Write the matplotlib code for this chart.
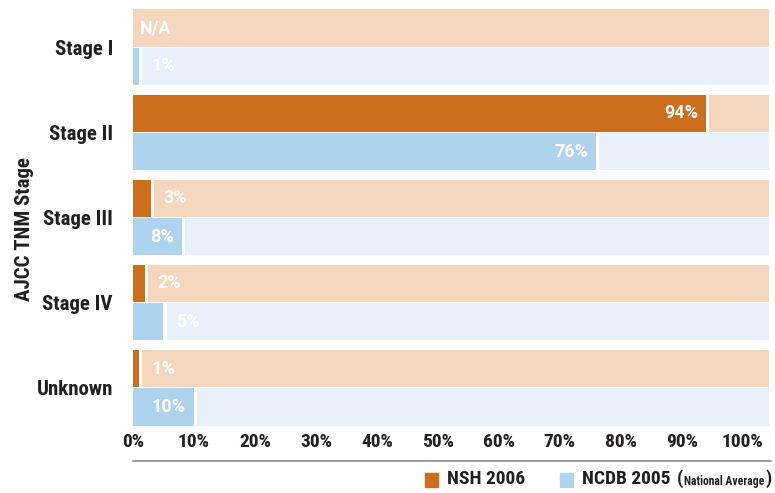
import matplotlib
matplotlib.use("Agg")
import matplotlib.pyplot as plt
from matplotlib.patches import Rectangle
from matplotlib.lines import Line2D
from matplotlib import font_manager

categories = ["Stage I", "Stage II", "Stage III", "Stage IV", "Unknown"]
nsh_2006 = [None, 94, 3, 2, 1]
ncdb_2005 = [1, 76, 8, 5, 10]
tick_labels = ["0%", "10%", "20%", "30%", "40%", "50%", "60%", "70%", "80%", "90%", "100%"]
series_names = ["NSH 2006", "NCDB 2005"]

names = {f.name for f in font_manager.fontManager.ttflist}
FONT = "DejaVu Sans"
for cand in ["Roboto Condensed", "IBM Plex Sans Condensed", "Barlow Semi Condensed", "Archivo Narrow"]:
    if cand in names:
        FONT = cand
        break
LABFONT = "Roboto" if "Roboto" in names else FONT
plt.rcParams["font.family"] = [FONT, "DejaVu Sans"]
WT = "semibold"

C_NSH = "#CD6E1C"
C_NSH_BG = "#F3D6BD"
C_NCDB = "#ADD3EF"
C_NCDB_BG = "#E8F1FB"
TXT = "#231F20"

W, H = 7.75, 4.93
fig = plt.figure(figsize=(W, H), dpi=100)
ax = fig.add_axes([133 / 775, 1 - 426 / 493, (769 - 133) / 775, (426 - 9) / 493])

XMAX = 104.3
PITCH = 2.22
BH = 0.975
GAP = 0.5
LKW = dict(color="white", fontsize=13, fontweight="bold", family=[LABFONT, "DejaVu Sans"], va="center")

def draw_row(y, val, color, bgcolor):
    if val is None:
        ax.barh(y, XMAX, left=0, height=BH, color=bgcolor, linewidth=0)
        ax.text(1.2, y, "N/A", ha="left", **LKW)
        return
    ax.barh(y, val, left=0, height=BH, color=color, linewidth=0)
    ax.barh(y, XMAX - val - GAP, left=val + GAP, height=BH, color=bgcolor, linewidth=0)
    if val >= 8:
        ax.text(val - 1.3, y, f"{val}%", ha="right", **LKW)
    else:
        ax.text(val + 2.0, y, f"{val}%", ha="left", **LKW)

for i, cat in enumerate(categories):
    y0 = i * PITCH
    draw_row(y0, nsh_2006[i], C_NSH, C_NSH_BG)
    draw_row(y0 + 1, ncdb_2005[i], C_NCDB, C_NCDB_BG)

ax.set_xlim(0, XMAX)
ax.set_ylim(4 * PITCH + 1 + 0.5, -0.5)
ax.set_yticks([i * PITCH + 0.5 for i in range(len(categories))])
ax.set_yticklabels(categories, fontsize=15, color=TXT, fontweight=WT)
ax.set_xticks(range(0, 101, 10))
ax.set_xticklabels(tick_labels, fontsize=14, color=TXT, fontweight=WT)
ax.tick_params(axis="both", length=0)
ax.tick_params(axis="y", pad=14.4)
ax.tick_params(axis="x", pad=5)
for s in ax.spines.values():
    s.set_visible(False)
ax.set_ylabel("AJCC TNM Stage", fontsize=15, color=TXT, fontweight=WT, va="center")
ax.yaxis.set_label_coords(-(133 - 24) / 636, (426 - 229) / 417)

def fx(px):
    return px / 775
def fy(py):
    return 1 - py / 493

# separator line
fig.add_artist(Line2D([fx(133), fx(771)], [fy(461), fy(461)], color="#8C8C8C", linewidth=1.2))

# legend
fig.add_artist(Rectangle((fx(425), fy(487)), 13 / 775, 14 / 493, color=C_NSH, transform=fig.transFigure))
fig.text(fx(447), fy(479), series_names[0], fontsize=14, color=TXT, va="center", ha="left", fontweight=WT)
fig.add_artist(Rectangle((fx(560), fy(487)), 13 / 775, 14 / 493, color=C_NCDB, transform=fig.transFigure))
fig.text(fx(582), fy(479), series_names[1], fontsize=14, color=TXT, va="center", ha="left", fontweight=WT)
tp = fig.text(fx(772), fy(479), ")", fontsize=14, color=TXT, va="center", ha="right", fontweight=WT)
fig.canvas.draw()
x0 = tp.get_window_extent().x0
t2 = fig.text(x0 / fig.dpi / W - 1 / 775, fy(481), "National Average", fontsize=8.4, color=TXT,
              va="center", ha="right", fontweight="bold")
fig.canvas.draw()
x0 = t2.get_window_extent().x0
fig.text(x0 / fig.dpi / W - 1 / 775, fy(479), "(", fontsize=14, color=TXT, va="center", ha="right", fontweight=WT)

fig.savefig("out.png", dpi=100)
